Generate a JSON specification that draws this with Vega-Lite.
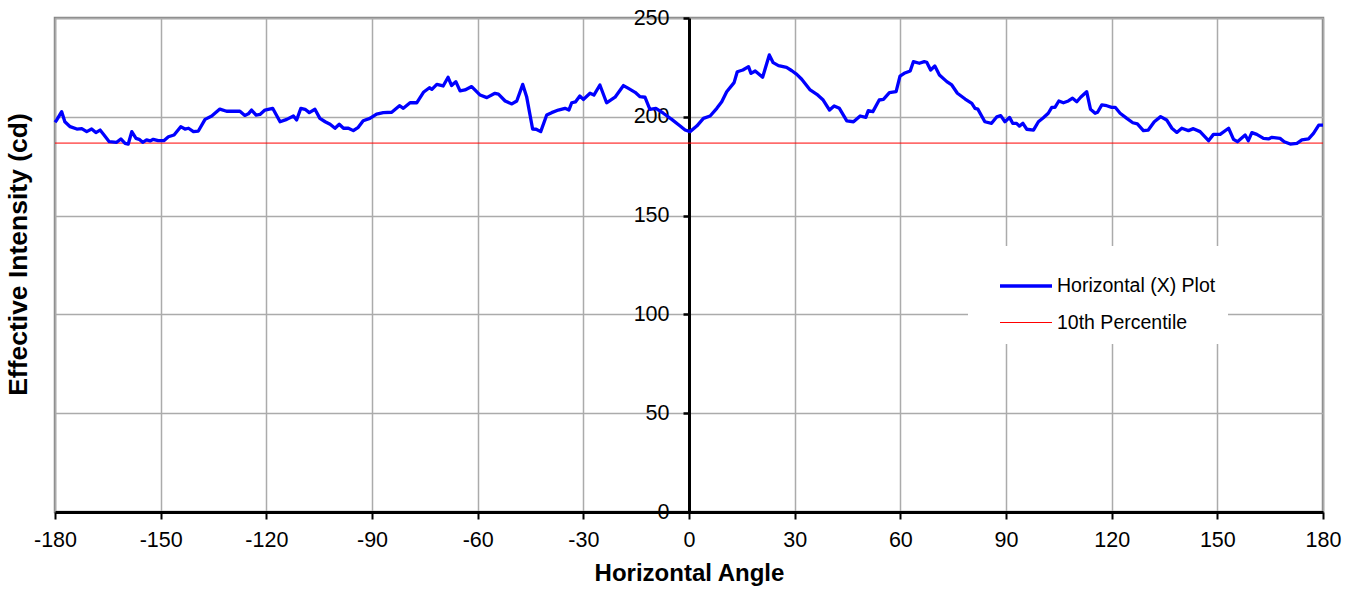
{
  "$schema": "https://vega.github.io/schema/vega-lite/v6.json",
  "width": 1268,
  "height": 494,
  "autosize": "none",
  "padding": {"left": 55, "top": 18, "right": 32, "bottom": 80},
  "background": "white",
  "config": {
    "view": {"stroke": "#868686", "strokeWidth": 2.5},
    "font": "Liberation Sans"
  },
  "datasets": {
    "plot": [
      [-180,197.2],[-179.5,198.4],[-178.1,202.6],[-177.2,197.5],[-175.7,195],[-173.8,193.8],[-172.4,194],[-171,192.5],[-169.6,193.8],[-168.4,192],[-167.2,193.3],[-166.3,191.3],[-164.6,187.4],[-162.5,187.1],[-161.3,188.8],[-160.1,186.6],[-159.2,186.2],[-158.2,192.5],[-157,189.1],[-156.1,188.6],[-155.1,187.1],[-154,188.3],[-153,187.8],[-152.1,188.6],[-150.7,187.9],[-149.1,187.9],[-147.8,189.9],[-146.2,190.8],[-144.3,195],[-143.1,193.8],[-142.1,194.2],[-140.7,192.5],[-139.3,192.8],[-137.4,198.7],[-135.5,200.4],[-134.6,201.8],[-133.2,203.9],[-131.3,202.8],[-127.5,202.8],[-126.1,200.7],[-125.1,201.5],[-124.2,203.4],[-122.9,200.9],[-121.8,201.2],[-120.4,203.4],[-118.2,204.3],[-116.1,197.5],[-114.2,198.7],[-112.3,200.4],[-111.4,198.4],[-110.2,204.3],[-109,203.8],[-107.8,202.1],[-106.2,203.8],[-104.8,199.2],[-103.3,197.5],[-101.9,196.2],[-100.5,194.2],[-99.3,196.2],[-98.1,194.2],[-96.7,194.2],[-95.3,193],[-93.9,194.7],[-92.5,198],[-90.6,199.2],
      [-88.7,201.4],[-86.8,202.1],[-84.4,202.3],[-82.2,205.6],[-81.1,204.3],[-79.2,207.1],[-77.3,207.1],[-75.4,212.4],[-73.7,214.7],[-73.0,213.9],[-71.6,216.4],[-69.8,215.6],[-68.4,220],[-67.4,215.8],[-66.2,217.8],[-65.0,213.1],[-63.6,213.6],[-61.7,215.3],[-59.3,211],[-57.4,209.7],[-55.1,211.9],[-54.1,211.5],[-52.2,208],[-50.3,206.5],[-48.9,208],[-47.2,216.4],[-46.1,210.2],[-44.4,193.8],[-43.4,193.7],[-42.1,192.5],[-40.4,200.9],[-39,202.1],[-37.1,203.4],[-35.2,204.3],[-34.1,203.4],[-33.3,207.1],[-32.2,207.6],[-31.0,210.5],[-30,208.8],[-28.1,211.9],[-27.0,211],[-25.3,216.1],[-23.4,207.1],[-21.0,209.9],[-18.6,215.8],[-17.2,214.4],[-15.3,212.4],[-13.9,210.2],[-12.5,209.9],[-11.1,203.8],[-9.4,204.3],[-7.3,201.8],[-4.9,198.7],[-2.6,195.5],[-1.1,193.3],
      [0.3,192.5],[2.2,195.3],[4.1,199.2],[6.0,200.4],[7.9,204.3],[9.3,207.6],[10.7,212.7],[12.8,217.3],[13.7,222.8],[15.3,223.7],[16.9,225.4],[17.6,222],[18.8,223.2],[20.9,220],[22.8,231.3],[23.9,227.4],[25.4,225.9],[27.7,225],[29.2,223.3],[30.6,221.5],[32.0,219],[34.4,213.6],[36.3,211.4],[38.1,208.5],[39.9,203.4],[41.2,205.5],[42.7,204.3],[44.8,197.9],[46.7,197.5],[48.6,200.4],[50.2,199.7],[50.9,203.1],[52.2,202.6],[54.0,208.5],[55.2,208.8],[56.9,212.2],[58.8,212.7],[59.9,220.6],[61.1,222],[62.8,223.2],[63.7,227.9],[65.4,227.1],[66.8,227.9],[67.5,227.6],[68.6,223.7],[69.8,225.7],[71.1,221.2],[73.2,217.8],[74.6,216.1],[76.2,211.9],[78.4,209],[80.3,206.8],[81.2,204.3],[82.0,203.9],[84.0,197.5],[85.9,196.7],[87.4,200],[88.5,200.6],
      [89.7,197.5],[91.0,199.7],[91.9,196.7],[93.0,196.7],[93.8,195.3],[94.8,196.7],[95.9,193.7],[97.8,193.3],[99.2,197.5],[100.6,199.5],[102.0,201.8],[103.0,204.8],[103.9,204.8],[105.0,208],[106.3,207.1],[107.7,208],[108.9,209.4],[110.1,207.6],[111.2,209.9],[112.9,212.7],[114.0,203.8],[115.3,201.8],[116.0,202.3],[117.2,206],[118.6,205.6],[120.0,204.8],[121.0,204.8],[122.4,201.8],[124.3,199.2],[126.0,197],[127.3,196.4],[129.0,193],[130.4,193.3],[132.1,197.5],[133.9,200.1],[135.6,198.4],[137.1,194.2],[138.5,192.1],[139.9,194.2],[141.8,193],[143.2,194],[145.1,192.5],[147.5,187.9],[148.9,191.1],[150.8,191.1],[153.2,194.2],[154.6,188.6],[155.7,187.4],[157.9,190.8],[158.8,187.9],[159.8,192],[161.2,191.1],[163.1,189.1],[164.5,188.8],[165.5,189.6],[167.8,189.1],[169.0,187.4],[170.7,186.2],[172.6,186.6],[174.0,188.3],[175.9,188.8],[177.3,191.6],[178.8,195.8],[180,195.8]
    ],
    "pct": [[-180,186.7],[180,186.7]]
  },
  "layer": [
    {
      "data": {"name": "pct"},
      "transform": [
        {"calculate": "datum[0]", "as": "angle"},
        {"calculate": "datum[1]", "as": "intensity"},
        {"calculate": "'10th Percentile'", "as": "series"}
      ],
      "mark": {"type": "line"},
      "encoding": {
        "x": {"field": "angle", "type": "quantitative"},
        "y": {"field": "intensity", "type": "quantitative"},
        "color": {"field": "series", "type": "nominal"},
        "strokeWidth": {"field": "series", "type": "nominal"}
      }
    },
    {
      "data": {"name": "plot"},
      "transform": [
        {"calculate": "datum[0]", "as": "angle"},
        {"calculate": "datum[1]", "as": "intensity"},
        {"calculate": "'Horizontal (X) Plot'", "as": "series"}
      ],
      "mark": {"type": "line", "strokeJoin": "round"},
      "encoding": {
        "x": {"field": "angle", "type": "quantitative"},
        "y": {"field": "intensity", "type": "quantitative"},
        "color": {"field": "series", "type": "nominal"},
        "strokeWidth": {"field": "series", "type": "nominal"}
      }
    }
  ],
  "encoding": {
    "x": {
      "field": "angle", "type": "quantitative",
      "scale": {"domain": [-180, 180], "nice": false, "zero": false},
      "axis": {
        "values": [-180, -150, -120, -90, -60, -30, 0, 30, 60, 90, 120, 150, 180],
        "labelExpr": "'' + datum.value",
        "title": "Horizontal Angle",
        "titleFont": "Liberation Sans", "titleFontSize": 24, "titleFontWeight": "bold", "titleColor": "black",
        "titlePadding": 11,
        "labelFont": "Liberation Sans", "labelFontSize": 21.5, "labelColor": "black", "labelPadding": 10,
        "labelFlush": false, "labelOverlap": false,
        "tickColor": "black", "tickSize": 7, "tickWidth": 2,
        "domainColor": "black", "domainWidth": 3,
        "grid": true, "gridColor": "#ababab", "gridWidth": 1.5
      }
    },
    "y": {
      "field": "intensity", "type": "quantitative",
      "scale": {"domain": [0, 250], "nice": false},
      "axis": {
        "values": [0, 50, 100, 150, 200, 250],
        "orient": "left", "offset": -634,
        "title": "Effective Intensity (cd)",
        "titleFont": "Liberation Sans", "titleFontSize": 26.5, "titleFontWeight": "bold", "titleColor": "black",
        "titleAngle": -90, "titleBaseline": "middle", "titleAlign": "center",
        "titleX": -671, "titleY": 236,
        "labelFont": "Liberation Sans", "labelFontSize": 21.5, "labelColor": "black", "labelPadding": 14,
        "labelFlush": false, "labelOverlap": false,
        "tickColor": "black", "tickSize": 6, "tickWidth": 2.5,
        "domainColor": "black", "domainWidth": 3,
        "grid": true, "gridColor": "#ababab", "gridWidth": 1.5
      }
    },
    "color": {
      "field": "series", "type": "nominal",
      "scale": {"domain": ["Horizontal (X) Plot", "10th Percentile"], "range": ["#0000FF", "#FF0000"]},
      "legend": {
        "title": null, "orient": "none", "legendX": 913, "legendY": 228,
        "direction": "vertical", "fillColor": "white", "padding": 12,
        "symbolType": "stroke", "symbolSize": 2704, "symbolOffset": 18,
        "labelFont": "Liberation Sans", "labelFontSize": 19.5, "labelColor": "black",
        "labelOffset": 3, "rowPadding": -13,
        "encode": {
          "symbols": {
            "update": {
              "stroke": {"scale": "color", "field": "value"},
              "strokeWidth": {"scale": "strokeWidth", "field": "value"},
              "opacity": {"value": 1}
            }
          }
        }
      }
    },
    "strokeWidth": {
      "field": "series", "type": "nominal",
      "scale": {"domain": ["Horizontal (X) Plot", "10th Percentile"], "range": [3.3, 1]}
    }
  }
}
